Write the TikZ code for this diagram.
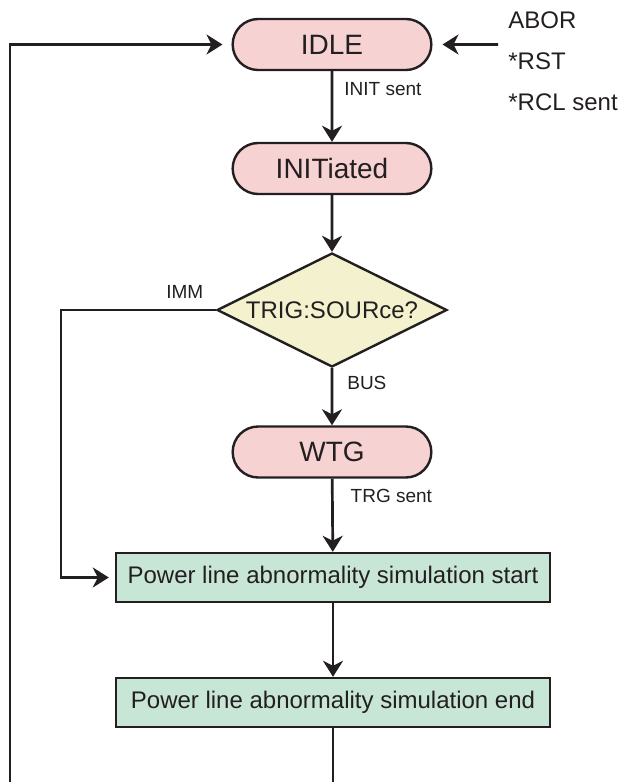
\documentclass[tikz,border=0pt]{standalone}
\usepackage{fontspec}
\setmainfont{Liberation Sans}
\usetikzlibrary{shapes.misc,shapes.geometric,arrows.meta,positioning}
\definecolor{statepink}{RGB}{246,211,210}
\definecolor{askyellow}{RGB}{244,242,206}
\definecolor{actgreen}{RGB}{200,230,214}
\definecolor{inkgray}{RGB}{35,31,32}
\tikzset{%
    state/.style={%
        rounded rectangle, minimum width=106pt, minimum height=25.5pt, text centered, draw=inkgray, line width=1.2pt, fill=statepink, text=inkgray, font=\fontsize{14}{16}\selectfont
    },
    query/.style={%
        diamond, aspect=2, inner sep=0pt, minimum width=115pt, minimum height=57pt, draw=inkgray, line width=1.2pt, fill=askyellow, text=inkgray, font=\fontsize{12}{14}\selectfont
    },
    action/.style={%
        rectangle, minimum width=217pt, minimum height=24.5pt, text centered, draw=inkgray, line width=1.2pt, fill=actgreen, text=inkgray, font=\fontsize{12}{14}\selectfont
    },
    cmd/.style={%
        anchor=west, inner sep=0pt, text=inkgray, font=\fontsize{12}{14}\selectfont
    },
    lbl/.style={%
        inner sep=0pt, text=inkgray, font=\fontsize{9.5}{11}\selectfont
    },
    wire/.style={%
        draw=inkgray, line width=1.35pt
    },
    flow/.style={%
        wire, -{Stealth[length=8pt,width=10pt,inset=2.5pt]}
    },
}

\begin{document}
\begin{tikzpicture}[x=0.5pt,y=-0.5pt]
      \useasboundingbox (0,0) rectangle (620,782);

      \node[state] (idle) at (332,44.5) {IDLE};
      \node[state] (initiated) at (332,168.5) {INITiated};
      \node[query] (trigsrc) at (332,310) {TRIG:SOURce?};
      \node[state] (wtg) at (332,452) {WTG};
      \node[action] (simstart) at (333,577.5) {Power line abnormality simulation start};
      \node[action] (simend) at (333,702.5) {Power line abnormality simulation end};

      \node[cmd] (abor) at (508,20) {ABOR};
      \node[cmd] (rst) at (508,61) {*RST};
      \node[cmd] (rcl) at (508,102) {*RCL sent};

      \coordinate (cmdin) at (498,44.5);
      \coordinate (immbend) at (61,310);
      \coordinate (loopL) at (10,782);
      \coordinate (loopB) at (333,782);

      \draw [flow, shorten >=5pt] (cmdin) -- (idle);
      \draw [flow] (idle) -- (initiated) node[lbl, pos=0.25, anchor=west, xshift=5.5pt]{INIT sent};
      \draw [flow] (initiated) -- (trigsrc);
      \draw [flow] (trigsrc) -- (wtg) node[lbl, pos=0.25, anchor=west, xshift=7pt]{BUS};
      \draw [flow] (wtg) -- (simstart) node[lbl, pos=0.24, anchor=west, xshift=8.5pt]{TRG sent};
      \draw [flow] (simstart) -- (simend);

      \draw [flow, shorten >=3pt] (trigsrc) -- (immbend) node[lbl, pos=0.2, anchor=south, yshift=5pt]{IMM} |- (simstart);
      \draw [wire] (simend) -- (loopB);
      \draw [flow, shorten >=4.5pt] (loopL) |- (idle);
    \end{tikzpicture}
\end{document}
